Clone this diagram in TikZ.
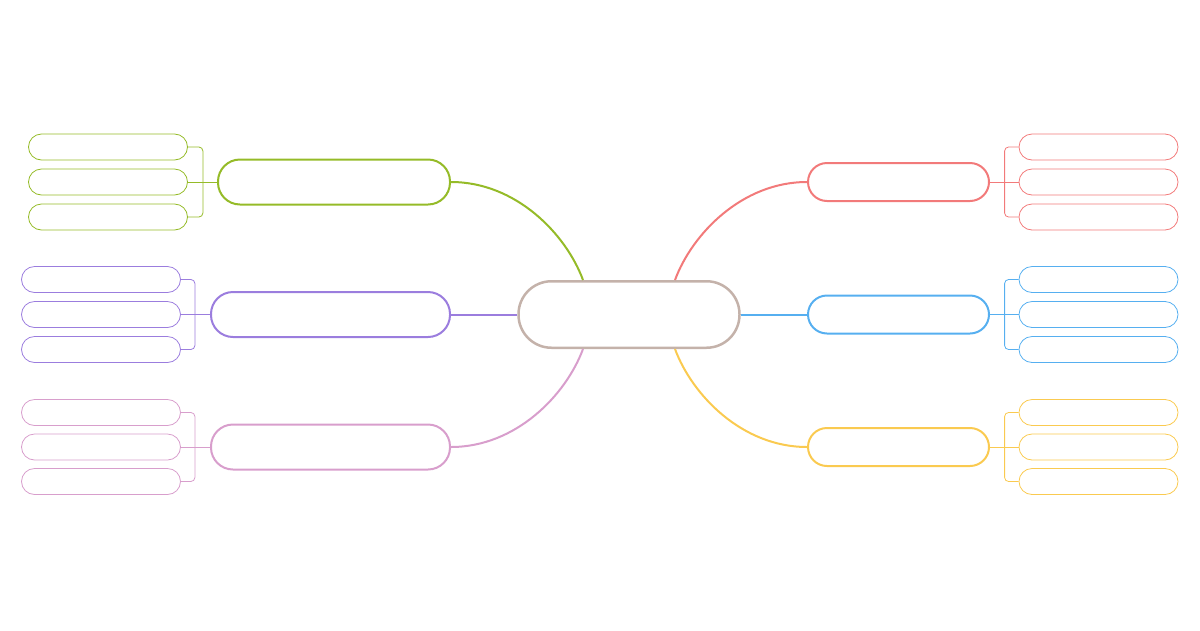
\documentclass[tikz,border=0pt]{standalone}
\usetikzlibrary{calc,positioning}
\definecolor{topicc}{RGB}{196,178,170}
\definecolor{greenc}{RGB}{149,187,40}
\definecolor{purplec}{RGB}{155,125,222}
\definecolor{pinkc}{RGB}{216,158,204}
\definecolor{redc}{RGB}{242,122,122}
\definecolor{bluec}{RGB}{86,175,240}
\definecolor{yellowc}{RGB}{250,202,80}

\begin{document}
\begin{tikzpicture}[x=1pt,y=-1pt,
  topic/.style={draw=topicc,line width=2.5pt,rounded corners=33pt,minimum width=221pt,minimum height=66.5pt,inner sep=0pt},
  mainbox/.style={draw=#1,line width=2pt,rounded corners=22pt,minimum height=45pt,inner sep=0pt},
  smallmain/.style={draw=#1,line width=2pt,rounded corners=19pt,minimum height=38pt,minimum width=181pt,inner sep=0pt},
  leaf/.style={draw=#1,line width=0.8pt,rounded corners=13pt,minimum width=159pt,minimum height=26pt,inner sep=0pt},
  branch/.style={draw=#1,line width=2pt},
  twig/.style={draw=#1,line width=0.8pt,rounded corners=4pt}]
\useasboundingbox (0,0) rectangle (1200,630);

% central topic
\node[topic] (topic) at (629,314.5) {};

% main branches
\node[mainbox=greenc,minimum width=232pt] (green) at (334,182) {};
\node[mainbox=purplec,minimum width=239pt] (purple) at (330.5,314.5) {};
\node[mainbox=pinkc,minimum width=239pt] (pink) at (330.5,447) {};
\node[smallmain=redc] (red) at (898.5,182) {};
\node[smallmain=bluec] (blue) at (898.5,314.5) {};
\node[smallmain=yellowc] (yellow) at (898.5,447) {};

% leaves
\foreach \i/\y in {1/147,2/182,3/217}
  \node[leaf=greenc] (green\i) at (108,\y) {};
\foreach \i/\y in {1/279.5,2/314.5,3/349.5}
  \node[leaf=purplec] (purple\i) at (101,\y) {};
\foreach \i/\y in {1/412.5,2/447,3/481.5}
  \node[leaf=pinkc] (pink\i) at (101,\y) {};
\foreach \i/\y in {1/147,2/182,3/217}
  \node[leaf=redc] (red\i) at (1098.5,\y) {};
\foreach \i/\y in {1/279.5,2/314.5,3/349.5}
  \node[leaf=bluec] (blue\i) at (1098.5,\y) {};
\foreach \i/\y in {1/412.5,2/447,3/481.5}
  \node[leaf=yellowc] (yellow\i) at (1098.5,\y) {};

% branches from the topic
\draw[branch=greenc] ($(topic.north)+(-46,0)$) .. controls (566,234) and (516,182) .. (green.east);
\draw[branch=purplec] (topic.west) -- (purple.east);
\draw[branch=pinkc] ($(topic.south)+(-46,0)$) .. controls (566,395) and (516,447) .. (pink.east);
\draw[branch=redc] ($(topic.north)+(46,0)$) .. controls (692,234) and (742,182) .. (red.west);
\draw[branch=bluec] (topic.east) -- (blue.west);
\draw[branch=yellowc] ($(topic.south)+(46,0)$) .. controls (692,395) and (742,447) .. (yellow.west);

% brackets to the leaves
\draw[twig=greenc] (green1.east) -- ++(15,0) |- (green3.east);
\draw[twig=greenc] (green.west) -- (green2.east);
\draw[twig=purplec] (purple1.east) -- ++(14,0) |- (purple3.east);
\draw[twig=purplec] (purple.west) -- (purple2.east);
\draw[twig=pinkc] (pink1.east) -- ++(14,0) |- (pink3.east);
\draw[twig=pinkc] (pink.west) -- (pink2.east);
\draw[twig=redc] (red1.west) -- ++(-14,0) |- (red3.west);
\draw[twig=redc] (red.east) -- (red2.west);
\draw[twig=bluec] (blue1.west) -- ++(-14,0) |- (blue3.west);
\draw[twig=bluec] (blue.east) -- (blue2.west);
\draw[twig=yellowc] (yellow1.west) -- ++(-14,0) |- (yellow3.west);
\draw[twig=yellowc] (yellow.east) -- (yellow2.west);
\end{tikzpicture}
\end{document}
